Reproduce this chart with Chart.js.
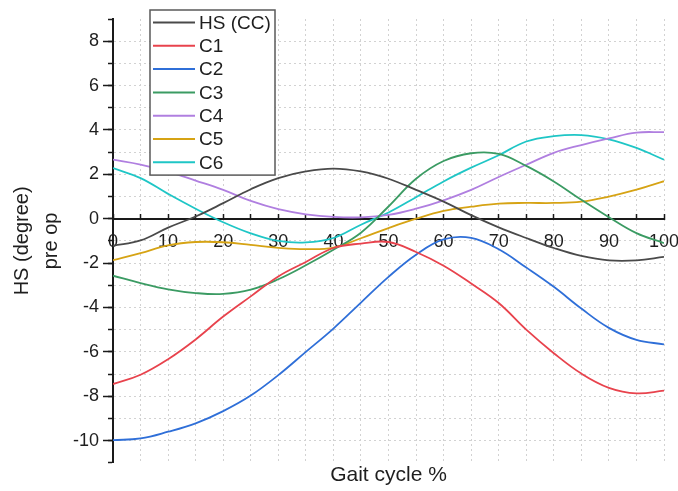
<!DOCTYPE html>
<html>
<head>
<meta charset="utf-8">
<title>HS pre op</title>
<script src="https://cdn.jsdelivr.net/npm/chart.js@4.4.1/dist/chart.umd.min.js"></script>
<style>
  html, body { margin: 0; padding: 0; background: #fff; }
  canvas { display: block; }
</style>
</head>
<body>
<canvas id="hsChart" width="678" height="491"></canvas>
<script>
// Gait cycle sample points (%)
const gaitPct = [0, 5, 10, 15, 20, 25, 30, 35, 40, 45, 50, 55, 60, 65, 70, 75, 80, 85, 90, 95, 100];

// HS angle (degree), pre op, one array per curve
const hsCC = [-1.22, -0.98, -0.4, 0.1, 0.7, 1.33, 1.83, 2.13, 2.26, 2.13, 1.8, 1.3, 0.77, 0.16, -0.39, -0.87, -1.32, -1.68, -1.88, -1.88, -1.72];
const c1 = [-7.45, -7.03, -6.33, -5.44, -4.41, -3.5, -2.6, -1.95, -1.32, -1.12, -1.05, -1.5, -2.12, -2.92, -3.8, -5.0, -6.06, -6.98, -7.62, -7.87, -7.75];
const c2 = [-9.98, -9.9, -9.6, -9.22, -8.67, -7.97, -7.05, -6.0, -4.95, -3.78, -2.62, -1.62, -0.93, -0.86, -1.38, -2.2, -3.07, -4.05, -4.92, -5.46, -5.66];
const c3 = [-2.57, -2.9, -3.18, -3.35, -3.39, -3.2, -2.73, -2.1, -1.4, -0.63, 0.55, 1.8, 2.6, 2.95, 2.92, 2.38, 1.68, 0.85, 0.07, -0.65, -1.1];
const c4 = [2.66, 2.44, 2.12, 1.72, 1.3, 0.8, 0.43, 0.2, 0.08, 0.06, 0.17, 0.45, 0.83, 1.3, 1.88, 2.43, 2.97, 3.32, 3.62, 3.88, 3.9];
const c5 = [-1.87, -1.55, -1.2, -1.05, -1.06, -1.18, -1.31, -1.37, -1.3, -0.88, -0.42, 0.0, 0.35, 0.54, 0.68, 0.71, 0.71, 0.77, 1.0, 1.31, 1.69];
const c6 = [2.28, 1.83, 1.12, 0.45, -0.16, -0.66, -1.0, -1.07, -0.87, -0.27, 0.28, 0.97, 1.68, 2.3, 2.86, 3.48, 3.72, 3.77, 3.58, 3.19, 2.66];

const seriesNames = ['HS (CC)', 'C1', 'C2', 'C3', 'C4', 'C5', 'C6'];
const seriesValues = [hsCC, c1, c2, c3, c4, c5, c6];
const seriesColors = ['#4a4a4a', '#e8434d', '#2f6fd8', '#3b9b63', '#b07fe0', '#d6a314', '#1fc6c6'];

const FONT = '"Liberation Sans", Arial, sans-serif';
const AXIS_BLACK = '#1a1a1a';
const GRID_GREY = '#d2d2d2';
const NONE = 'rgba(0,0,0,0)';

// Boxed legend sitting on top of the curves, near the top-left of the plot
const boxLegend = {
  id: 'boxLegend',
  afterDatasetsDraw(chart) {
    const { ctx, chartArea } = chart;
    const sets = chart.data.datasets;
    const left = chartArea.left + 37;
    const top = chartArea.top - 9;
    const rowH = 23.3;
    const w = 125;
    const h = rowH * sets.length + 2;
    ctx.save();
    ctx.fillStyle = '#fff';
    ctx.fillRect(left, top, w, h);
    ctx.strokeStyle = '#5a5a5a';
    ctx.lineWidth = 1.5;
    ctx.strokeRect(left, top, w, h);
    ctx.font = '19px ' + FONT;
    ctx.textBaseline = 'middle';
    ctx.textAlign = 'left';
    sets.forEach((ds, i) => {
      const y = top + 12.5 + i * rowH;
      ctx.strokeStyle = ds.borderColor;
      ctx.lineWidth = 2;
      ctx.beginPath();
      ctx.moveTo(left + 3, y);
      ctx.lineTo(left + 45, y);
      ctx.stroke();
      ctx.fillStyle = '#1e1e1e';
      ctx.fillText(ds.label, left + 49, y + 1);
    });
    ctx.restore();
  }
};

const datasets = seriesNames.map((name, i) => ({
  label: name,
  data: gaitPct.map((x, j) => ({ x: x, y: seriesValues[i][j] })),
  borderColor: seriesColors[i],
  backgroundColor: seriesColors[i],
  borderWidth: 1.8,
  pointRadius: 0,
  tension: 0.4,
  fill: false
}));

new Chart(document.getElementById('hsChart'), {
  type: 'line',
  data: { datasets: datasets },
  plugins: [boxLegend],
  options: {
    responsive: false,
    animation: false,
    devicePixelRatio: 1,
    layout: { padding: { top: 19, right: 14, left: 0, bottom: 0 } },
    plugins: {
      legend: { display: false },
      tooltip: { enabled: false }
    },
    scales: {
      // bottom axis: only vertical grid and the title
      x: {
        type: 'linear',
        min: 0,
        max: 100,
        ticks: { display: false, stepSize: 5, maxTicksLimit: 30 },
        grid: { color: GRID_GREY, lineWidth: 1, drawTicks: false },
        border: { display: false, dash: [2, 3] },
        title: {
          display: true,
          text: 'Gait cycle %',
          color: '#1e1e1e',
          font: { family: FONT, size: 21 },
          padding: { top: 0, bottom: 3 }
        }
      },
      // axis line crossing at y = 0 with the tick labels
      xZero: {
        axis: 'x',
        type: 'linear',
        min: 0,
        max: 100,
        position: { y: 0 },
        ticks: {
          stepSize: 5,
          maxTicksLimit: 30,
          autoSkip: false,
          maxRotation: 0,
          padding: 19,
          color: '#1e1e1e',
          font: { family: FONT, size: 18 },
          callback: v => (v % 10 === 0 ? v : '')
        },
        grid: { drawOnChartArea: false, tickLength: -6, tickColor: AXIS_BLACK, tickWidth: 1.5 },
        border: { color: AXIS_BLACK, width: 2 },
        afterFit: s => { s.height = 0; s.paddingLeft = 0; s.paddingRight = 0; }
      },
      // labelled major ticks and the axis title
      y: {
        type: 'linear',
        position: 'left',
        weight: 1,
        min: -11,
        max: 9,
        ticks: {
          stepSize: 1,
          maxTicksLimit: 30,
          autoSkip: false,
          padding: 4,
          color: '#1e1e1e',
          font: { family: FONT, size: 18 },
          callback: v => (v % 2 === 0 ? v : '')
        },
        grid: {
          drawOnChartArea: false,
          tickLength: 10,
          tickWidth: 1.5,
          tickColor: c => (c.tick && c.tick.value % 2 === 0 ? AXIS_BLACK : NONE)
        },
        border: { color: AXIS_BLACK, width: 2 },
        title: {
          display: true,
          text: ['HS (degree)', 'pre op'],
          color: '#1e1e1e',
          font: { family: FONT, size: 20, lineHeight: 1.45 },
          padding: { top: 8, bottom: 0 }
        },
        afterFit: s => { s.width = 113; }
      },
      // minor ticks every unit plus horizontal grid
      yMinor: {
        axis: 'y',
        type: 'linear',
        position: 'left',
        weight: 0,
        min: -11,
        max: 9,
        ticks: { display: false, stepSize: 1, maxTicksLimit: 30 },
        grid: {
          color: c => (c.tick && (c.tick.value === 9 || c.tick.value === -11) ? NONE : GRID_GREY),
          lineWidth: 1,
          tickLength: 5,
          tickWidth: 1.5,
          tickColor: AXIS_BLACK
        },
        border: { color: AXIS_BLACK, width: 2, dash: [2, 3] },
        afterFit: s => { s.width = 0; }
      }
    }
  }
});
</script>
</body>
</html>
